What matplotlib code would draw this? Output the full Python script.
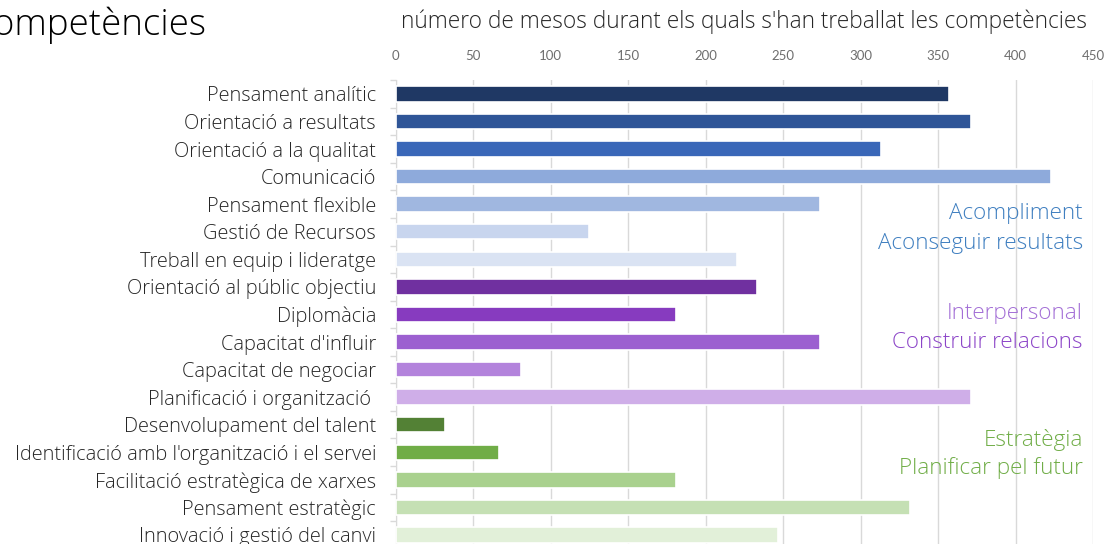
import matplotlib
matplotlib.use("Agg")
import matplotlib.pyplot as plt

categories = [
    "Pensament analític", "Orientació a resultats", "Orientació a la qualitat",
    "Comunicació", "Pensament flexible", "Gestió de Recursos",
    "Treball en equip i lideratge", "Orientació al públic objectiu", "Diplomàcia",
    "Capacitat d'influir", "Capacitat de negociar", "Planificació i organització ",
    "Desenvolupament del talent", "Identificació amb l'organització i el servei",
    "Facilitació estratègica de xarxes", "Pensament estratègic",
    "Innovació i gestió del canvi",
]
values = [357, 371, 313, 423, 274, 125, 220, 233, 181, 274, 81, 371, 32, 67, 181, 332, 247]
colors = [
    "#1f3864", "#2f5597", "#3a67b8", "#8eaadb", "#a0b7e0", "#c8d5ee", "#dae3f3",
    "#7030a0", "#873bbf", "#9c60d0", "#b383dc", "#cfaee8",
    "#538135", "#70ad47", "#a9d18e", "#c5e0b4", "#e2f0d9",
]
xticks = [0, 50, 100, 150, 200, 250, 300, 350, 400, 450]
group_labels = [
    ("Acompliment", "#3f7fc0", 213), ("Aconseguir resultats", "#3f7fc0", 243),
    ("Interpersonal", "#a36fd6", 313), ("Construir relacions", "#8c45c8", 342),
    ("Estratègia", "#70ad47", 440), ("Planificar pel futur", "#70ad47", 468),
]

FONT = "Open Sans"
W, H = 1106, 544
fig = plt.figure(figsize=(W / 100, H / 100), dpi=100)
x0, x1 = 395.5, 1093.0
ytop, ybot = 80.2, 548.7
ax = fig.add_axes([x0 / W, (H - ybot) / H, (x1 - x0) / W, (ybot - ytop) / H])

ypos = list(range(len(categories)))
ax.barh(ypos, values, height=0.56, color=colors, edgecolor="white", linewidth=1.2, zorder=3)
ax.set_xlim(0, 450)
ax.set_ylim(len(categories) - 0.5, -0.5)
ax.set_xticks(xticks)
ax.xaxis.tick_top()
ax.tick_params(axis="x", length=0, pad=13, labelsize=9.5, labelcolor="#6e6e6e")
for lab in ax.get_xticklabels():
    lab.set_fontfamily("Lato")
ax.xaxis.grid(True, color="#d9d9d9", linewidth=1, zorder=0)
ax.set_axisbelow(True)
ax.set_yticks([i - 0.5 for i in range(len(categories) + 1)], minor=False)
ax.set_yticklabels([])
ax.tick_params(axis="y", length=4, color="#d9d9d9", width=1)
ax.set_yticks(ypos, minor=True)
ax.set_yticklabels(categories, minor=True, fontfamily=FONT, fontweight="light",
                   fontsize=14.4, color="#262626")
ax.tick_params(axis="y", which="minor", length=0, pad=14)
for s in ["top", "right", "bottom"]:
    ax.spines[s].set_visible(False)
ax.spines["left"].set_color("#d9d9d9")

for text, c, y in group_labels:
    fig.text(1083 / W, 1 - y / H, text, ha="right", va="center", fontsize=16.2,
             color=c, fontfamily=FONT, fontweight="light")

fig.text(401 / W, 1 - 22 / H, "número de mesos durant els quals s'han treballat les competències",
         ha="left", va="center", fontsize=16.3, color="#262626", fontfamily=FONT,
         fontweight="light")
fig.text(207 / W, 1 - 25 / H, "Competències", ha="right", va="center", fontsize=26.5,
         color="black", fontfamily=FONT, fontweight="light")

fig.savefig("out.png", dpi=100)
